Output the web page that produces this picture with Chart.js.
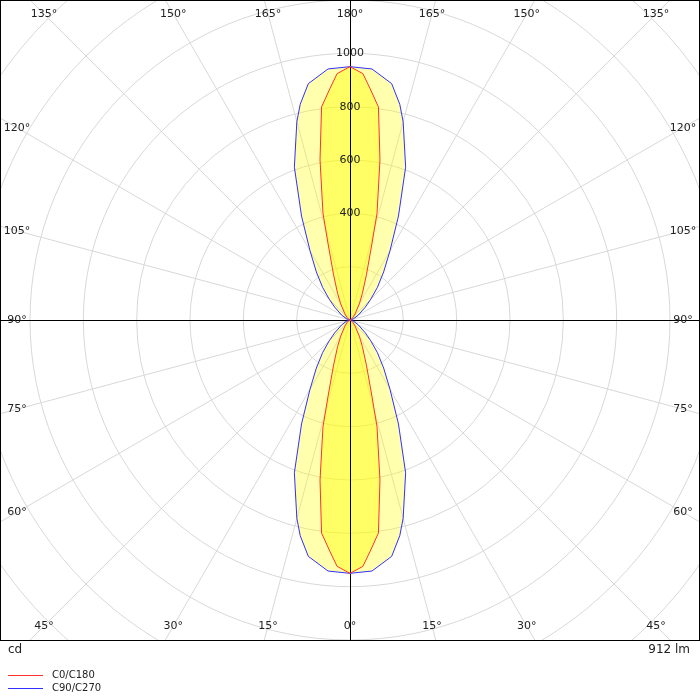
<!DOCTYPE html>
<html>
<head>
<meta charset="utf-8">
<script src="https://cdn.jsdelivr.net/npm/chart.js@4/dist/chart.umd.min.js"></script>
<style>
  body { margin: 0; background: #fff; }
  #wrap { width: 700px; height: 700px; }
</style>
</head>
<body>
<div id="wrap"><canvas id="polar"></canvas></div>
<script>
// gamma angles (deg) and luminous intensity (cd)
var c0Angles  = [0, 3, 5, 7.6, 10.6, 14.2, 16, 20, 25, 30, 40, 50, 60, 90];
var c0Values  = [950, 925, 870, 806, 611, 413, 300, 180, 110, 70, 30, 14, 6, 0];
var c90Angles = [0, 5, 10, 13, 15, 20, 25, 30, 35, 40, 45, 50, 60, 70, 80, 90];
var c90Values = [950, 945, 900, 830, 770, 610, 430, 300, 220, 160, 110, 75, 35, 15, 5, 0];
var ringLabels = [400, 600, 800, 1000];
var angleTicks = [0, 15, 30, 45, 60, 75, 90, 105, 120, 135, 150, 165, 180];
var fluxText = '912 lm';
var unitText = 'cd';

function toPoints(angles, values) {
    var pts = [], i, r;
    // lower lobe right side, upper lobe right side, upper left, lower left
    for (i = 0; i < angles.length; i++) {
        r = angles[i] * Math.PI / 180;
        pts.push({x: values[i] * Math.sin(r), y: -values[i] * Math.cos(r)});
    }
    for (i = angles.length - 1; i >= 0; i--) {
        r = angles[i] * Math.PI / 180;
        pts.push({x: values[i] * Math.sin(r), y: values[i] * Math.cos(r)});
    }
    for (i = 0; i < angles.length; i++) {
        r = angles[i] * Math.PI / 180;
        pts.push({x: -values[i] * Math.sin(r), y: values[i] * Math.cos(r)});
    }
    for (i = angles.length - 1; i >= 0; i--) {
        r = angles[i] * Math.PI / 180;
        pts.push({x: -values[i] * Math.sin(r), y: -values[i] * Math.cos(r)});
    }
    return pts;
}

var gridPlugin = {
    id: 'polarGrid',
    beforeDatasetsDraw: function(chart) {
        var ctx = chart.ctx, a = chart.chartArea;
        var sx = chart.scales.x, sy = chart.scales.y;
        var cx = sx.getPixelForValue(0), cy = sy.getPixelForValue(0);
        var k = sx.getPixelForValue(200) - cx;
        ctx.save();
        ctx.beginPath();
        ctx.rect(a.left, a.top, a.right - a.left, a.bottom - a.top);
        ctx.clip();
        ctx.strokeStyle = '#d8d8d8';
        ctx.lineWidth = 1;
        for (var v = 200; v <= 2600; v += 200) {
            ctx.beginPath();
            ctx.arc(cx, cy, k * v / 200, 0, Math.PI * 2);
            ctx.stroke();
        }
        for (var d = 0; d < 360; d += 15) {
            if (d % 90 === 0) continue;
            var t = d * Math.PI / 180;
            ctx.beginPath();
            ctx.moveTo(cx, cy);
            ctx.lineTo(cx + Math.sin(t) * 1200, cy + Math.cos(t) * 1200);
            ctx.stroke();
        }
        // light fills under the curves
        var fills = ['rgba(255,255,0,0.32)', 'rgba(255,255,0,0.42)'];
        [1, 0].forEach(function(idx, n) {
            var meta = chart.getDatasetMeta(idx);
            ctx.beginPath();
            meta.data.forEach(function(p, i) {
                if (i === 0) ctx.moveTo(p.x, p.y); else ctx.lineTo(p.x, p.y);
            });
            ctx.closePath();
            ctx.fillStyle = fills[n];
            ctx.fill();
        });
        ctx.strokeStyle = '#000';
        ctx.beginPath();
        ctx.moveTo(a.left, cy + 0.5); ctx.lineTo(a.right, cy + 0.5);
        ctx.moveTo(cx + 0.5, a.top); ctx.lineTo(cx + 0.5, a.bottom);
        ctx.stroke();
        ctx.restore();
    },
    afterDatasetsDraw: function(chart) {
        var ctx = chart.ctx, a = chart.chartArea;
        var sx = chart.scales.x, sy = chart.scales.y;
        var cx = sx.getPixelForValue(0), cy = sy.getPixelForValue(0);
        ctx.save();
        ctx.font = '11px "DejaVu Sans", sans-serif';
        ctx.fillStyle = '#222';
        ctx.textAlign = 'center';
        ctx.textBaseline = 'middle';
        ringLabels.forEach(function(v) {
            ctx.fillText(String(v), cx, sy.getPixelForValue(v));
        });
        // angle labels where each ray meets an inset box
        var L = a.left + 17, R = a.right - 17, T = a.top + 14, B = a.bottom - 14;
        angleTicks.forEach(function(g) {
            [1, -1].forEach(function(side) {
                if ((g === 0 || g === 180) && side < 0) return;
                var t = g * Math.PI / 180;
                var dx = Math.sin(t) * side, dy = Math.cos(t);
                var s = Infinity;
                if (dx > 1e-9) s = Math.min(s, (R - cx) / dx);
                if (dx < -1e-9) s = Math.min(s, (L - cx) / dx);
                if (dy > 1e-9) s = Math.min(s, (B - cy) / dy);
                if (dy < -1e-9) s = Math.min(s, (T - cy) / dy);
                ctx.fillText(g + '°', cx + dx * s, cy + dy * s);
            });
        });
        ctx.restore();
    },
    afterDraw: function(chart) {
        var ctx = chart.ctx, a = chart.chartArea;
        ctx.save();
        ctx.strokeStyle = '#000';
        ctx.lineWidth = 1;
        ctx.strokeRect(a.left + 0.5, a.top + 0.5, a.right - a.left - 1, a.bottom - a.top);
        ctx.fillStyle = '#222';
        ctx.font = '12px "DejaVu Sans", sans-serif';
        ctx.textBaseline = 'middle';
        ctx.textAlign = 'left';
        ctx.fillText(unitText, 8, a.bottom + 10);
        ctx.textAlign = 'right';
        ctx.fillText(fluxText, 690, a.bottom + 10);
        ctx.font = '10px "DejaVu Sans", sans-serif';
        ctx.textAlign = 'left';
        chart.data.datasets.forEach(function(ds, i) {
            var y = a.bottom + 35 + i * 13;
            ctx.strokeStyle = ds.borderColor;
            ctx.beginPath();
            ctx.moveTo(8, y + 0.5); ctx.lineTo(43, y + 0.5);
            ctx.stroke();
            ctx.fillText(ds.label, 52, y);
        });
        ctx.restore();
    }
};

new Chart(document.getElementById('polar'), {
    type: 'scatter',
    data: {
        datasets: [
            { label: 'C0/C180', data: toPoints(c0Angles, c0Values), borderColor: '#ff3030',
              showLine: true, pointRadius: 0, borderWidth: 1, tension: 0, fill: false },
            { label: 'C90/C270', data: toPoints(c90Angles, c90Values), borderColor: '#3030ff',
              showLine: true, pointRadius: 0, borderWidth: 1, tension: 0, fill: false }
        ]
    },
    options: {
        responsive: true,
        maintainAspectRatio: false,
        animation: false,
        layout: { padding: { left: 0, right: 0, top: 0, bottom: 60 } },
        scales: {
            x: { type: 'linear', display: false, min: -1312.5, max: 1312.5 },
            y: { type: 'linear', display: false, min: -1200, max: 1200 }
        },
        plugins: { legend: { display: false }, tooltip: { enabled: false } }
    },
    plugins: [gridPlugin]
});
</script>
</body>
</html>
